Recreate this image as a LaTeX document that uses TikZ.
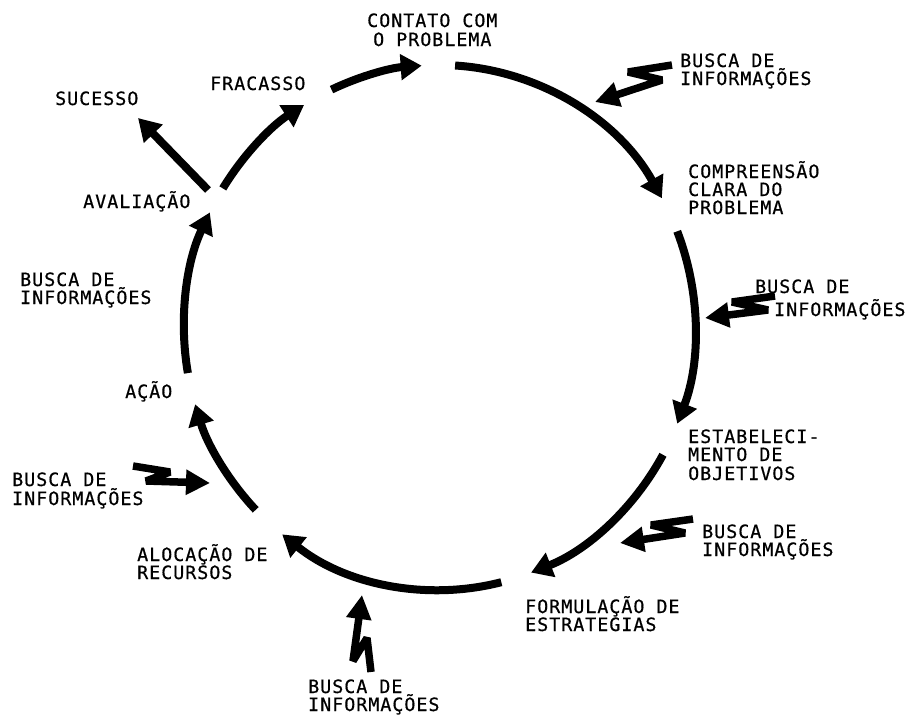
\documentclass[tikz,border=0pt]{standalone}
\usepackage{fontspec}
\newfontfamily\labfont{DejaVu Sans Mono}[LetterSpace=5.5,FakeBold=0.6]
\usetikzlibrary{arrows.meta,calc}
\begin{document}
\begin{tikzpicture}[x=1pt,y=-1pt,
  lab/.style={font=\labfont\fontsize{18.3}{18}\selectfont, inner sep=0pt, anchor=base west},
  ring/.style={line width=8pt, -{Triangle[width=25pt,length=21pt]}},
  straightarr/.style={line width=8pt, -{Triangle[width=25pt,length=22pt]}},
  bolt/.style={line width=7.5pt, line join=bevel, -{Triangle[width=24pt,length=24pt]}},
]
\fill[white] (0,0) rectangle (906,716);
\useasboundingbox (0,0) rectangle (906,716);

% labels
\node[lab] (t1a) at (367,27) {CONTATO COM};
\node[lab] (t1b) at (373,46) {O PROBLEMA};
\node[lab] (b1a) at (680,67) {BUSCA DE};
\node[lab] (b1b) at (680,85) {INFORMAÇÕES};
\node[lab] (t2a) at (688,178) {COMPREENSÃO};
\node[lab] (t2b) at (688,196) {CLARA DO};
\node[lab] (t2c) at (688,214) {PROBLEMA};
\node[lab] (b2a) at (755,293) {BUSCA DE};
\node[lab] (b2b) at (774,316) {INFORMAÇÕES};
\node[lab] (t3a) at (688,443) {ESTABELECI-};
\node[lab] (t3b) at (688,461) {MENTO DE};
\node[lab] (t3c) at (688,480) {OBJETIVOS};
\node[lab] (b3a) at (702,538) {BUSCA DE};
\node[lab] (b3b) at (702,556) {INFORMAÇÕES};
\node[lab] (t4a) at (525,613) {FORMULAÇÃO DE};
\node[lab] (t4b) at (525,631) {ESTRATEGIAS};
\node[lab] (b4a) at (308,693) {BUSCA DE};
\node[lab] (b4b) at (308,711) {INFORMAÇÕES};
\node[lab] (t5a) at (137,561) {ALOCAÇÃO DE};
\node[lab] (t5b) at (137,579) {RECURSOS};
\node[lab] (b5a) at (12,486) {BUSCA DE};
\node[lab] (b5b) at (12,505) {INFORMAÇÕES};
\node[lab] (t6) at (125,398) {AÇÃO};
\node[lab] (b6a) at (20,286) {BUSCA DE};
\node[lab] (b6b) at (20,304) {INFORMAÇÕES};
\node[lab] (t7) at (83,208) {AVALIAÇÃO};
\node[lab] (suc) at (55,105) {SUCESSO};
\node[lab] (fra) at (210,90) {FRACASSO};

% ring arcs
\coordinate (O) at (439.5,327.5);
\foreach \s/\e [count=\i] in {115/94, 86.5/29.5, 21.5/-21.5, -29/-69, -76/-128, -136/-163, -170/-206, 148/122}{
  \coordinate (r\i) at ($(O)+(\s:255.5pt and 262.5pt)$);
  \draw[ring] (r\i) arc[start angle=\s, end angle=\e, x radius=255.5pt, y radius=262.5pt];
}

% sucesso arrow
\coordinate (ev) at (208,190);
\coordinate (sucend) at (138,118);
\draw[straightarr] (ev) -- (sucend);

% lightning arrows (busca de informacoes)
\coordinate (z1) at (672,65);
\draw[bolt] (z1) -- (628,72) -- (662,80) -- (595,102);
\coordinate (z2) at (775,296);
\draw[bolt] (z2) -- (732,302) -- (768,310) -- (705,318);
\coordinate (z3) at (693,519);
\draw[bolt] (z3) -- (651,525) -- (685,533) -- (620,543);
\coordinate (z4) at (371,672);
\draw[bolt] (z4) -- (367,638) -- (353,661) -- (362,595);
\coordinate (z5) at (133,466);
\draw[bolt] (z5) -- (170,472) -- (146,481) -- (210,483);
\end{tikzpicture}
\end{document}
